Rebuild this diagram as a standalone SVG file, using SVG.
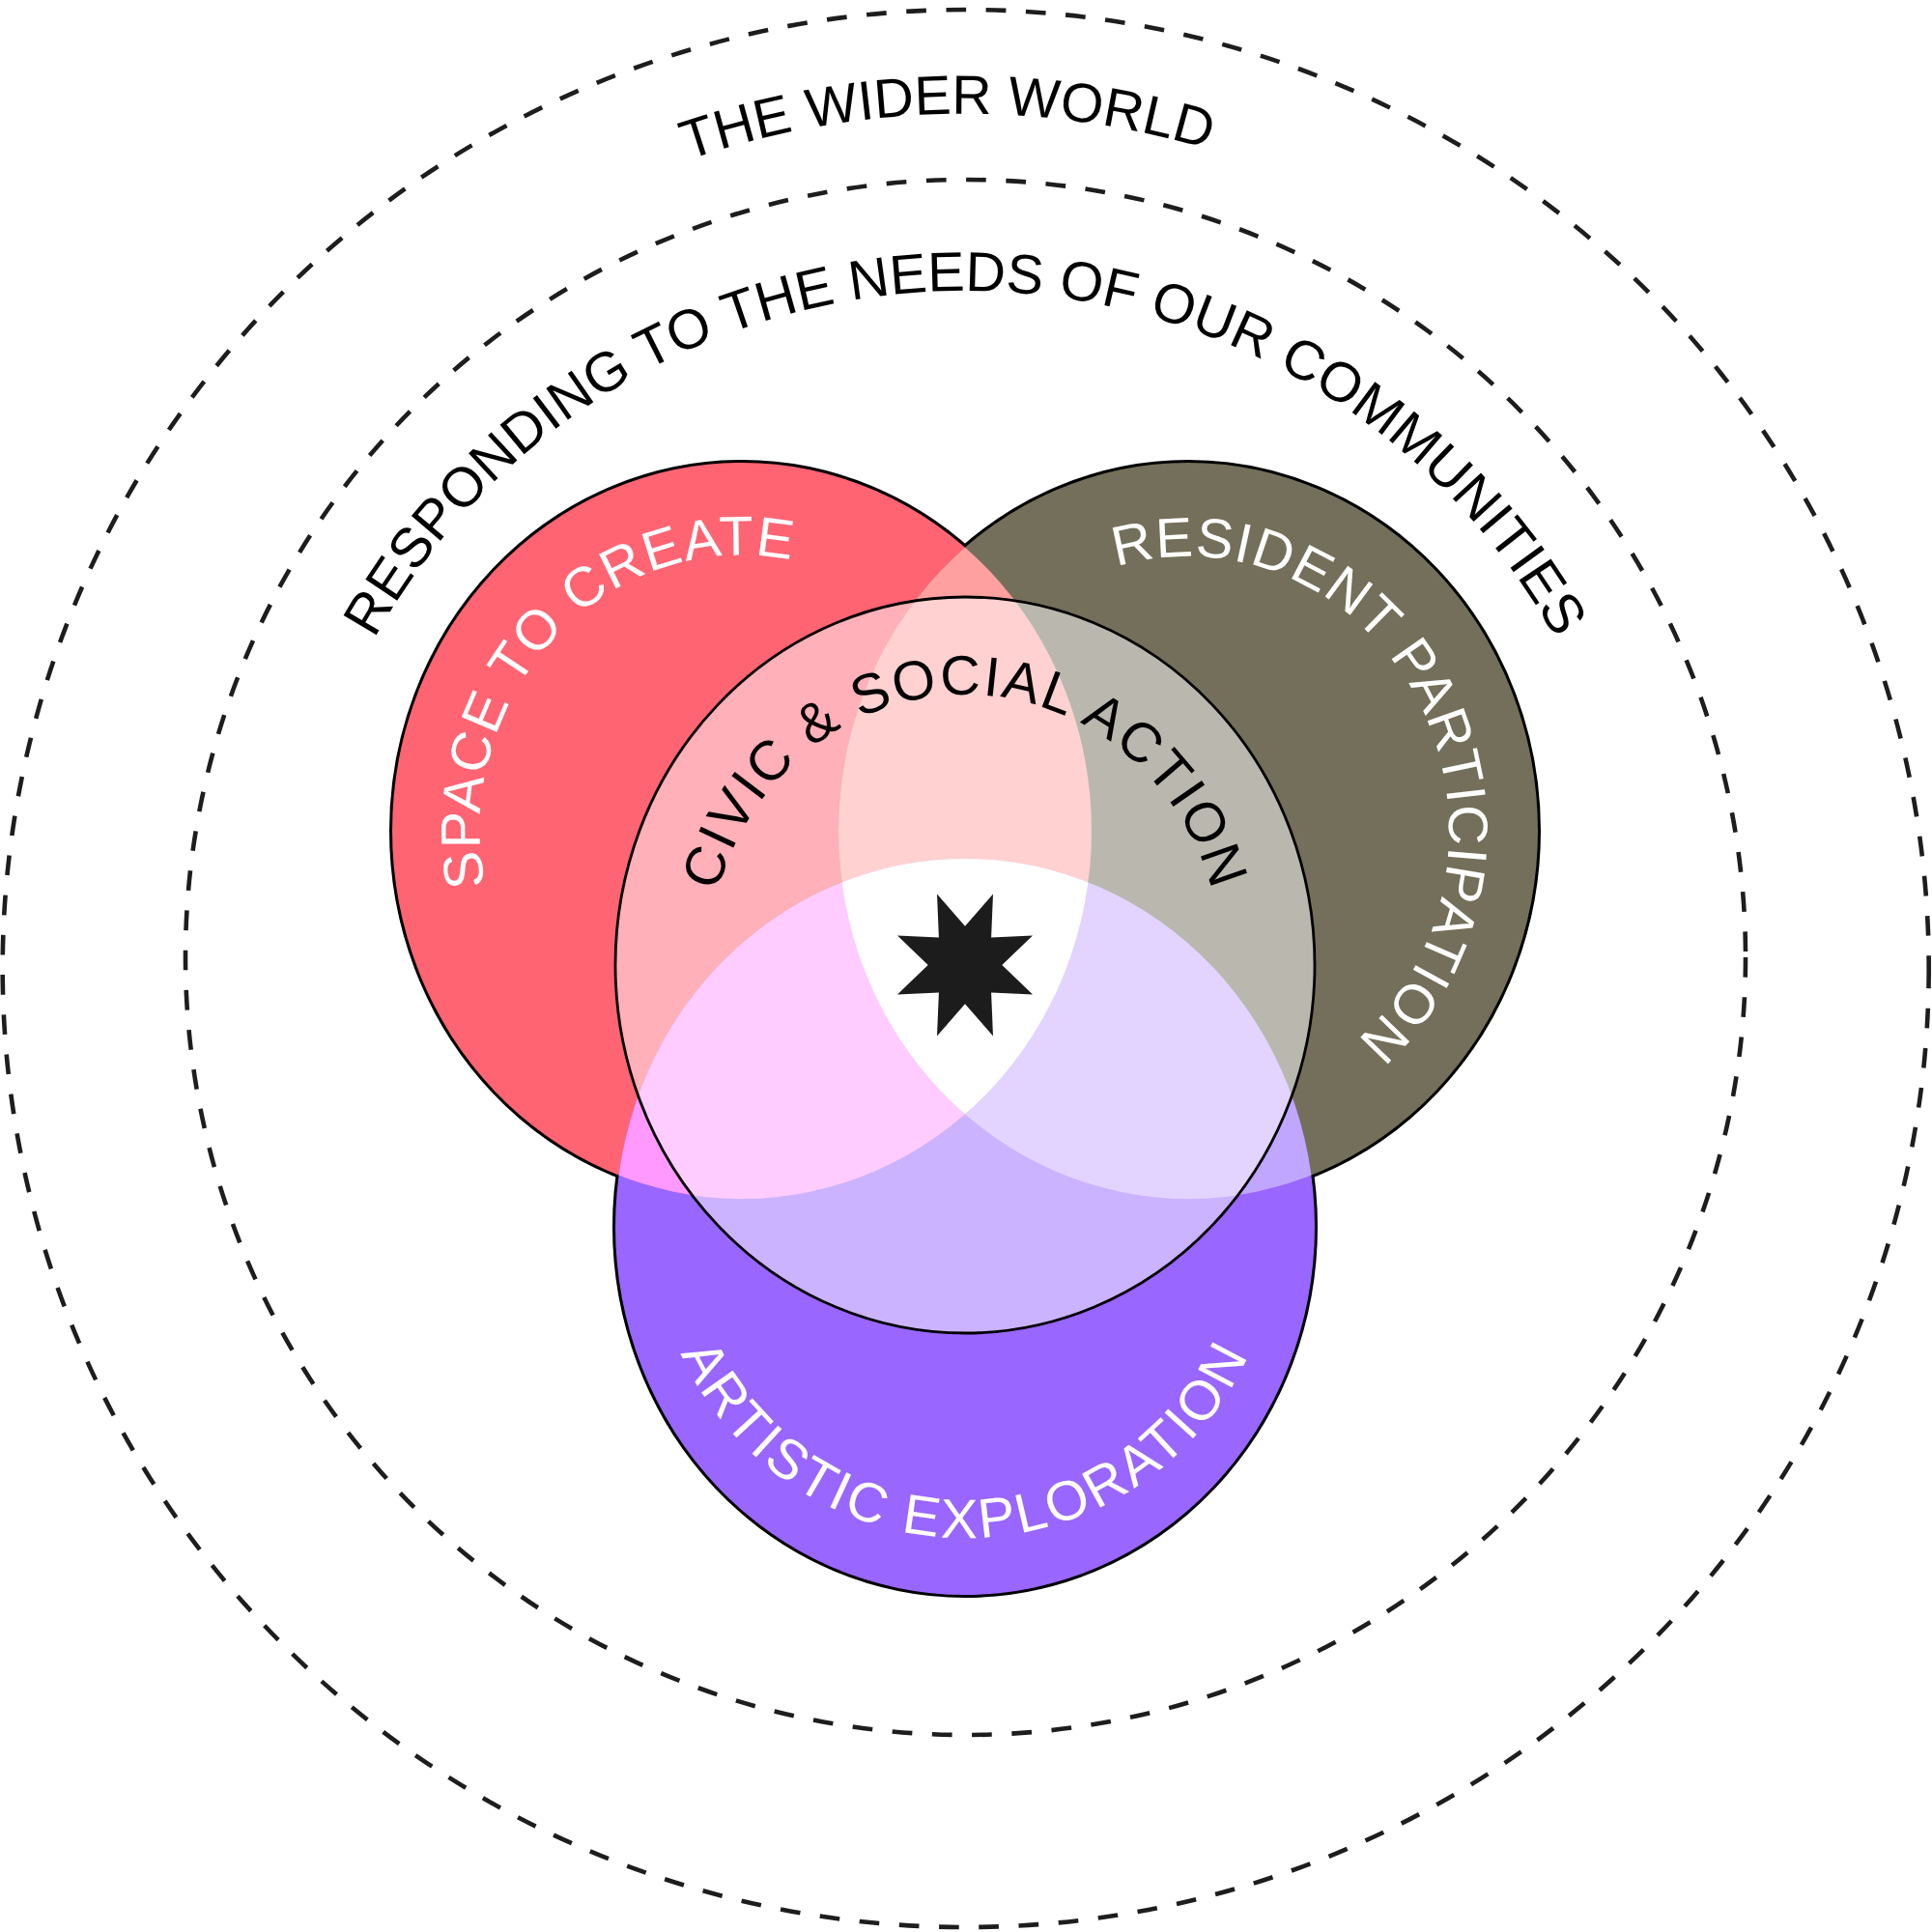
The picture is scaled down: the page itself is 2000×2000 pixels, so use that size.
<svg xmlns="http://www.w3.org/2000/svg" width="2000" height="2000" viewBox="0 0 2000 2000">
<style>
.dash{fill:none;stroke:#1d1d1d;stroke-width:4.6;stroke-dasharray:20.7 20.6}
.under{fill:none;stroke:#000;stroke-width:6}
.lbl{font-family:"Liberation Sans",Arial,Helvetica,sans-serif;font-size:57.5px}
.blk{fill:#000}
.wht{fill:#fff}
</style>
<defs>
<clipPath id="cR"><ellipse cx="768" cy="860" rx="362" ry="381"/></clipPath>
<clipPath id="cO"><ellipse cx="1230" cy="860" rx="362" ry="381"/></clipPath>
<clipPath id="cP"><ellipse cx="999" cy="1270" rx="362" ry="381"/></clipPath>
<path id="pWorld" d="M 1017.5 1882 A 882 882 0 0 1 980.5 118 A 882 882 0 0 1 1017.5 1882"/>
<path id="pComm" d="M 999 1699 A 699 699 0 0 1 999 301 A 699 699 0 0 1 999 1699"/>
<path id="pSpace" d="M 963.9 1057.3 A 270 284 0 0 1 572.1 662.7 A 270 284 0 0 1 963.9 1057.3"/>
<path id="pRes" d="M 989.2 988.5 A 270 284 0 0 1 1470.8 731.5 A 270 284 0 0 1 989.2 988.5"/>
<path id="pCivic" d="M 999 1279 A 266 280 0 0 1 999 719 A 266 280 0 0 1 999 1279"/>
<path id="pArt" d="M 999 948 A 322 322 0 0 0 999 1592 A 322 322 0 0 0 999 948"/>
</defs>
<rect width="2000" height="2000" fill="#fff"/>

<g id="wider-world">
<ellipse class="dash" cx="999.7" cy="1002.5" rx="997" ry="992.5"/>
<text class="lbl blk" style="font-size:57px"><textPath href="#pWorld" startOffset="50%" text-anchor="middle">THE WIDER WORLD</textPath></text>
</g>
<g id="communities">
<ellipse class="dash" cx="999.5" cy="991" rx="807.5" ry="805"/>
<text class="lbl blk"><textPath href="#pComm" startOffset="50%" text-anchor="middle">RESPONDING TO THE NEEDS OF OUR COMMUNITIES</textPath></text>
</g>

<g id="outline">
<ellipse class="under" cx="768" cy="860" rx="362" ry="381"/>
<ellipse class="under" cx="1230" cy="860" rx="362" ry="381"/>
<ellipse class="under" cx="999" cy="1270" rx="362" ry="381"/>
</g>

<g id="space-to-create-fill"><ellipse cx="768" cy="860" rx="362" ry="381" fill="#FF6473"/></g>
<g id="resident-participation-fill"><ellipse cx="1230" cy="860" rx="362" ry="381" fill="#736F5A"/></g>
<g id="artistic-exploration-fill"><ellipse cx="999" cy="1270" rx="362" ry="381" fill="#9966FF"/></g>

<g id="overlaps">
<ellipse cx="1230" cy="860" rx="362" ry="381" fill="#FFA0A0" clip-path="url(#cR)"/>
<ellipse cx="999" cy="1270" rx="362" ry="381" fill="#FF99FF" clip-path="url(#cR)"/>
<ellipse cx="999" cy="1270" rx="362" ry="381" fill="#C0A6FF" clip-path="url(#cO)"/>
</g>

<g id="civic-social-action">
<ellipse cx="999" cy="999" rx="362" ry="381" fill="#FFB0B8" clip-path="url(#cR)"/>
<ellipse cx="999" cy="999" rx="362" ry="381" fill="#BAB8AE" clip-path="url(#cO)"/>
<ellipse cx="999" cy="999" rx="362" ry="381" fill="#CCB3FF" clip-path="url(#cP)"/>
<g clip-path="url(#cR)"><ellipse cx="999" cy="999" rx="362" ry="381" fill="#FFD1D1" clip-path="url(#cO)"/></g>
<g clip-path="url(#cR)"><ellipse cx="999" cy="999" rx="362" ry="381" fill="#FFCCFF" clip-path="url(#cP)"/></g>
<g clip-path="url(#cO)"><ellipse cx="999" cy="999" rx="362" ry="381" fill="#E2D4FF" clip-path="url(#cP)"/></g>
<g clip-path="url(#cR)"><g clip-path="url(#cO)"><ellipse cx="999" cy="999" rx="362" ry="381" fill="#FFFFFF" clip-path="url(#cP)"/></g></g>
<ellipse cx="999" cy="999" rx="362" ry="381" fill="none" stroke="#000" stroke-width="2.8"/>
<text class="lbl blk" letter-spacing="2"><textPath href="#pCivic" startOffset="50%" text-anchor="middle">CIVIC &amp; SOCIAL ACTION</textPath></text>
</g>

<g id="star">
<polygon fill="#1c1c1c" points="999,958.7 1028,925.6 1026.1,970.5 1069,968.6 1037.3,999 1069,1029.4 1026.1,1027.5 1028,1072.4 999,1039.3 970,1072.4 971.9,1027.5 929,1029.4 960.7,999 929,968.6 971.9,970.5 970,925.6"/>
</g>

<g id="space-to-create">
<text class="lbl wht" letter-spacing="1.2"><textPath href="#pSpace" startOffset="50%" text-anchor="middle">SPACE TO CREATE</textPath></text>
</g>
<g id="resident-participation">
<text class="lbl wht" letter-spacing="1"><textPath href="#pRes" startOffset="50%" text-anchor="middle">RESIDENT PARTICIPATION</textPath></text>
</g>
<g id="artistic-exploration">
<text class="lbl wht" letter-spacing="3"><textPath href="#pArt" startOffset="50%" text-anchor="middle">ARTISTIC EXPLORATION</textPath></text>
</g>
<g id="connectors"/>
</svg>
